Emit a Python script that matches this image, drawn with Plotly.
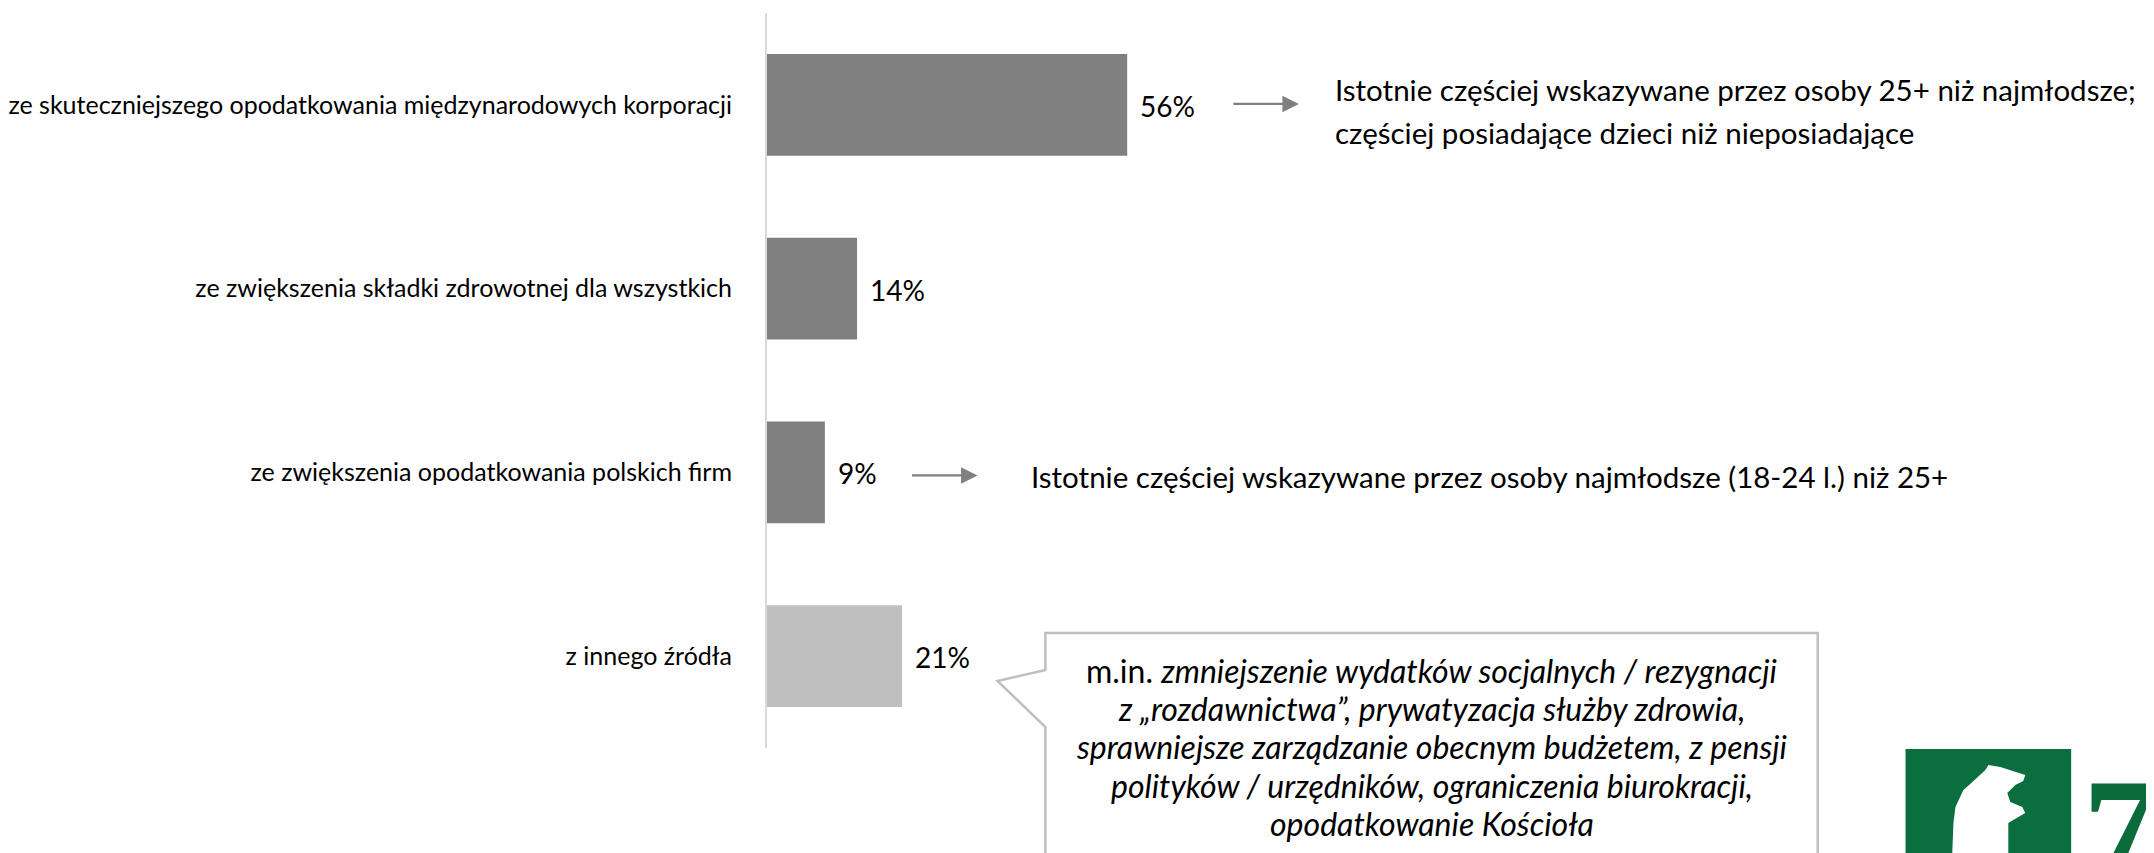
import plotly.graph_objects as go

# ---------------- data ----------------
categories = [
    "ze skuteczniejszego opodatkowania międzynarodowych korporacji",
    "ze zwiększenia składki zdrowotnej dla wszystkich",
    "ze zwiększenia opodatkowania polskich firm",
    "z innego źródła",
]
values = [56, 14, 9, 21]
value_labels = ["56%", "14%", "9%", "21%"]
bar_colors = ["#808080", "#808080", "#808080", "#bfbfbf"]

note1_lines = [
    "Istotnie częściej wskazywane przez osoby 25+ niż najmłodsze;",
    "częściej posiadające dzieci niż nieposiadające",
]
note2_lines = ["Istotnie częściej wskazywane przez osoby najmłodsze (18-24 l.) niż 25+"]
callout_lines = [
    "m.in. <i>zmniejszenie wydatków socjalnych / rezygnacji</i>",
    "<i>z „rozdawnictwa”, prywatyzacja służby zdrowia,</i>",
    "<i>sprawniejsze zarządzanie obecnym budżetem, z pensji</i>",
    "<i>polityków / urzędników, ograniczenia biurokracji,</i>",
    "<i>opodatkowanie Kościoła</i>",
]

# ---------------- layout geometry ----------------
OFF = 8                      # default page body margin
W, H = 2154 - OFF, 853 - OFF
L, T = 764 - OFF, 13 - OFF
B = H - (748 - OFF)
PW, PH = W - L, H - T - B
PX_PER_PCT = 6.446
FONT = "Lato, 'Open Sans', sans-serif"


def px(xp):
    """page x (reference pixels) -> paper x"""
    return (xp - OFF - L) / PW


def py(yp):
    """page y (reference pixels) -> paper y"""
    return (H - B - (yp - OFF)) / PH


fig = go.Figure()
fig.add_trace(go.Bar(
    x=values, y=categories, orientation="h",
    marker=dict(color=bar_colors, line=dict(width=0)),
    hoverinfo="skip", showlegend=False,
))

annotations = []
for cat, v, lab in zip(categories, values, value_labels):
    annotations.append(dict(
        x=v, y=cat, xref="x", yref="y", text=lab, showarrow=False,
        xanchor="left", yanchor="middle", xshift=11, yshift=-1,
        font=dict(family=FONT, size=28, color="#000000"),
    ))

# arrows
for cat, tip_px, dy in [(categories[0], 1297, 1), (categories[2], 975, -3)]:
    annotations.append(dict(
        x=(tip_px - 764) / PX_PER_PCT, y=cat, xref="x", yref="y",
        ax=-67, ay=0, text="", showarrow=True,
        arrowhead=2, arrowsize=1.5, arrowwidth=2.2, arrowcolor="#808080",
        yshift=dy,
    ))

# right-side notes
for line, yc in zip(note1_lines, [90, 133]):
    annotations.append(dict(
        x=px(1331), y=py(yc), xref="paper", yref="paper", text=line,
        showarrow=False, xanchor="left", yanchor="middle",
        font=dict(family=FONT, size=29.5, color="#000000"),
    ))
for line, yc in zip(note2_lines, [476]):
    annotations.append(dict(
        x=px(1027), y=py(yc), xref="paper", yref="paper", text=line,
        showarrow=False, xanchor="left", yanchor="middle",
        font=dict(family=FONT, size=29.5, color="#000000"),
    ))

# callout text
for line, yc in zip(callout_lines, [670, 708.3, 746.6, 785, 823.3]):
    annotations.append(dict(
        x=px(1430), y=py(yc), xref="paper", yref="paper", text=line,
        showarrow=False, xanchor="center", yanchor="middle",
        font=dict(family=FONT, size=32, color="#000000"),
    ))

# logo "7"
annotations.append(dict(
    x=px(2081), y=py(746), xref="paper", yref="paper", text="<b>7</b>",
    showarrow=False, xanchor="left", yanchor="top",
    font=dict(family="'Liberation Serif', 'DejaVu Serif', serif", size=150, color="#0b6b3a"),
))


def path(points):
    return "M " + " L ".join(f"{px(a):.5f},{py(b):.5f}" for a, b in points) + " Z"


shapes = [
    # callout bubble
    dict(type="path", xref="paper", yref="paper",
         path=path([(1043, 633), (1817, 633), (1817, 900), (1043, 900),
                    (1043, 727), (995, 681), (1043, 670)]),
         fillcolor="#ffffff", line=dict(color="#bfbfbf", width=2.5), layer="below"),
    # logo square
    dict(type="rect", xref="paper", yref="paper",
         x0=px(1905), x1=px(2071), y0=py(749), y1=py(900),
         fillcolor="#0a6e3e", line=dict(width=0), layer="above"),
    # logo silhouette
    dict(type="path", xref="paper", yref="paper",
         path=path([(1988, 765), (2000, 767), (2025, 775), (2023, 781), (2015, 785),
                    (2007, 793), (2010, 802), (2022, 807), (2025, 813), (2013, 820),
                    (2008, 823), (2008, 900), (1950, 900), (1953, 823), (1955, 807),
                    (1963, 790), (1972, 782), (1985, 770)]),
         fillcolor="#ffffff", line=dict(width=0), layer="above"),
]

fig.update_layout(
    width=W, height=H,
    margin=dict(l=L, r=0, t=T, b=B, pad=0),
    paper_bgcolor="#ffffff", plot_bgcolor="#ffffff",
    bargap=0.445,
    showlegend=False,
    xaxis=dict(range=[0, PW / PX_PER_PCT], visible=False, fixedrange=True),
    yaxis=dict(
        type="category", categoryorder="array", categoryarray=categories,
        autorange="reversed", showgrid=False, zeroline=False,
        showline=True, linecolor="#d9d9d9", linewidth=2,
        ticks="", ticklabelstandoff=28,
        tickfont=dict(family=FONT, size=25, color="#000000"),
    ),
    annotations=annotations,
    shapes=shapes,
    font=dict(family=FONT),
)

fig.write_html("out.html")
